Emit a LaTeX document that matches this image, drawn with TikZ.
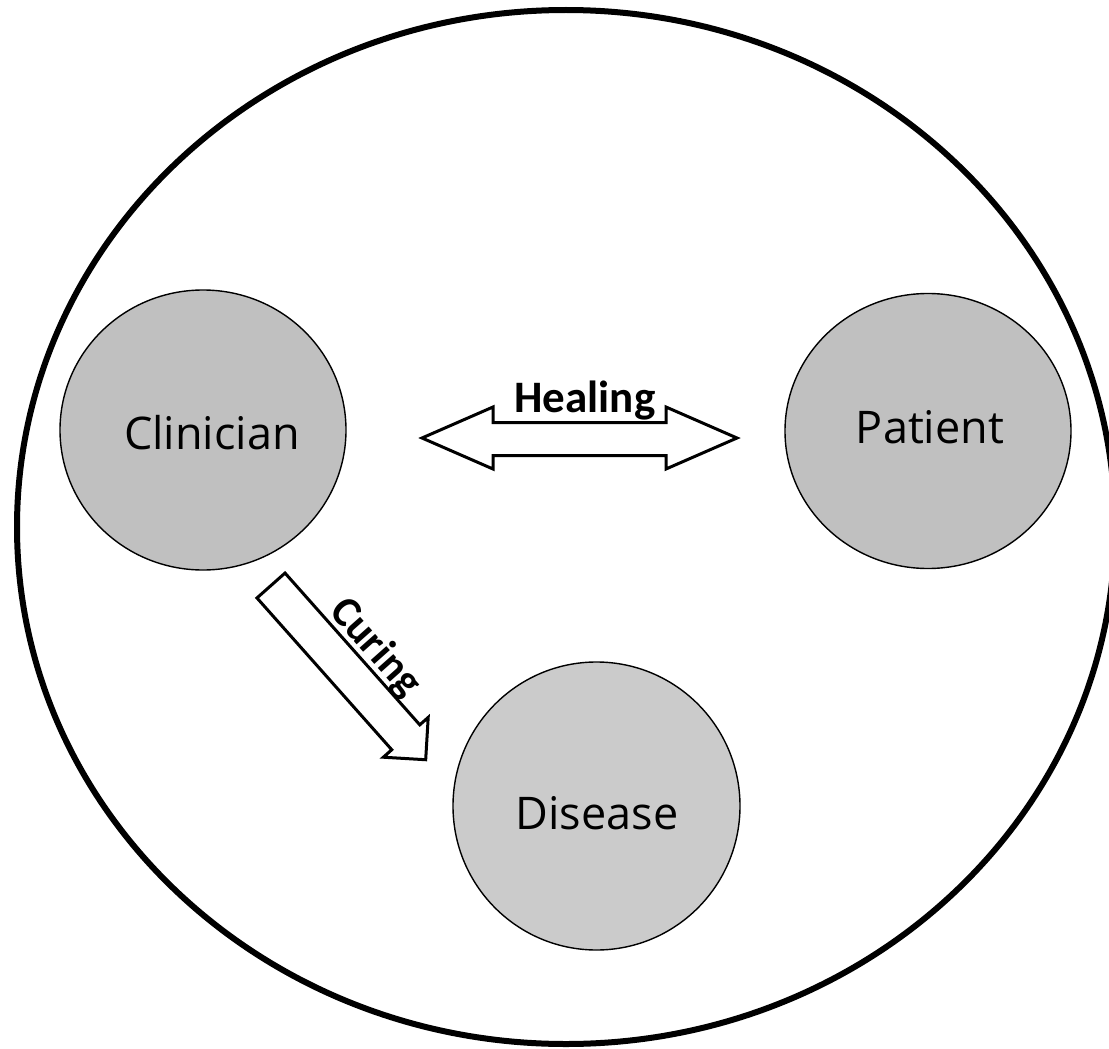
\documentclass[tikz,border=0pt]{standalone}
\usepackage{fontspec}
\setmainfont{Open Sans}
\newfontfamily\calib{Carlito}
\usetikzlibrary{shapes.geometric}
\definecolor{blobA}{HTML}{C0C0C0}
\definecolor{blobB}{HTML}{CBCBCB}
\tikzset{
  blob/.style={ellipse, draw=black, line width=1.4pt, inner sep=0pt, outer sep=0pt},
  lbl/.style={font=\fontsize{45}{54}\selectfont, anchor=base, inner sep=0pt},
  arrowlbl/.style={font=\calib\bfseries\fontsize{45}{54}\selectfont, anchor=base, inner sep=0pt},
  blockarrow/.style={draw=black, fill=white, line width=3pt, line join=miter},
  frame/.style={draw=black, line width=6pt}
}
\begin{document}
\begin{tikzpicture}[x=1pt, y=-1pt]
  \clip (0,0) rectangle (1109,1049);
  \fill[white] (0,0) rectangle (1109,1049);
  % outer boundary
  \draw[frame] (566,527) ellipse [x radius=549, y radius=517];
  % circles
  \node[blob, fill=blobA, minimum width=286pt, minimum height=280pt] (clin) at (203,430) {};
  \node[blob, fill=blobA, minimum width=286pt, minimum height=275pt] (pat) at (928,431) {};
  \node[blob, fill=blobB, minimum width=287pt, minimum height=288pt] (dis) at (596.5,806) {};
  \node[lbl] (clinT) at (212,449) {Clinician};
  \node[lbl] (patT) at (930,443) {Patient};
  \node[lbl] (disT) at (597,829) {Disease};
  % Healing double block arrow
  \draw[blockarrow] (422,438) -- (493,407) -- (493,422.5) -- (666,422.5) -- (666,407)
     -- (737,438) -- (666,469) -- (666,455.5) -- (493,455.5) -- (493,469) -- cycle;
  \node[arrowlbl] (heal) at (585,412) {Healing};
  % Curing block arrow
  \begin{scope}[shift={(271,585.5)}, rotate=-48.4]
    \draw[blockarrow] (0,-18.75) -- (203,-18.75) -- (203,-30) -- (233,0)
       -- (203,30) -- (203,18.75) -- (0,18.75) -- cycle;
    \node[arrowlbl, rotate=-48.4, font=\calib\bfseries\fontsize{43}{52}\selectfont] (cure) at (116,-25) {Curing};
  \end{scope}
\end{tikzpicture}
\end{document}
